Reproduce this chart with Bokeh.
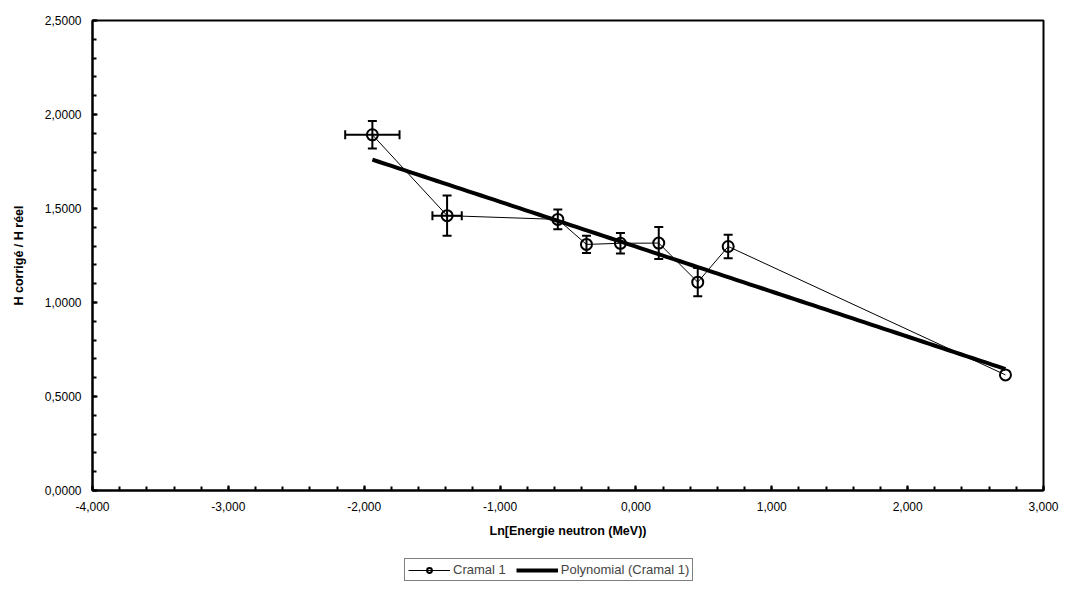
import numpy as np
from bokeh.plotting import figure
from bokeh.layouts import column
from bokeh.models import (ColumnDataSource, Whisker, TeeHead, FixedTicker, Legend,
                          LegendItem, Range1d)
from bokeh.embed import file_html
from bokeh.resources import INLINE

# ---- data ----
ln_energy = [-1.94, -1.39, -0.575, -0.364, -0.114, 0.168, 0.455, 0.679, 2.72]
h_ratio = [1.892, 1.462, 1.442, 1.309, 1.315, 1.316, 1.108, 1.298, 0.615]
y_err = [0.073, 0.107, 0.053, 0.046, 0.055, 0.085, 0.075, 0.062, 0.0]
x_err = [0.20, 0.108, 0.0, 0.0, 0.0, 0.0, 0.0, 0.0, 0.0]

x_ticks = [-4, -3, -2, -1, 0, 1, 2, 3]
x_tick_labels = ["-4,000", "-3,000", "-2,000", "-1,000", "0,000", "1,000", "2,000", "3,000"]
y_ticks = [0, 0.5, 1.0, 1.5, 2.0, 2.5]
y_tick_labels = ["0,0000", "0,5000", "1,0000", "1,5000", "2,0000", "2,5000"]

FONT = "Liberation Sans"

p = figure(width=1065, height=550, output_backend="svg", toolbar_location=None,
           x_range=Range1d(-4, 3), y_range=Range1d(0, 2.5),
           min_border_left=92, min_border_right=22, min_border_top=20,
           min_border_bottom=60)
p.grid.visible = False
p.outline_line_color = "black"
p.outline_line_width = 2
p.background_fill_color = "white"
p.border_fill_color = "white"

# axes
p.xaxis.ticker = FixedTicker(ticks=x_ticks,
                             minor_ticks=[round(-4 + 0.2 * i, 2) for i in range(36)])
p.xaxis.major_label_overrides = {t: l for t, l in zip(x_ticks, x_tick_labels)}
p.yaxis.ticker = FixedTicker(ticks=y_ticks,
                             minor_ticks=[round(0.1 * i, 2) for i in range(26)])
p.yaxis.major_label_overrides = {t: l for t, l in zip(y_ticks, y_tick_labels)}

for ax in (p.xaxis[0], p.yaxis[0]):
    ax.axis_line_color = "black"
    ax.axis_line_width = 2
    ax.major_tick_in = 5
    ax.major_tick_out = 0
    ax.minor_tick_in = 4
    ax.minor_tick_out = 0
    ax.major_tick_line_width = 2
    ax.minor_tick_line_width = 2
    ax.major_label_text_font = FONT
    ax.major_label_text_font_size = "12px"
    ax.major_label_text_color = "black"
    ax.axis_label_text_font = FONT
    ax.axis_label_text_font_size = "12.5px"
    ax.axis_label_text_font_style = "bold"
    ax.axis_label_text_color = "black"

p.xaxis.axis_label = "Ln[Energie neutron (MeV))"
p.yaxis.axis_label = "H corrigé / H réel"
p.xaxis.major_label_standoff = 11
p.yaxis.major_label_standoff = 11
p.xaxis.axis_label_standoff = 10
p.yaxis.axis_label_standoff = 16

src = ColumnDataSource(dict(x=ln_energy, y=h_ratio))

# polynomial trend line (fit of the data, as the spreadsheet did)
coef = np.polyfit(ln_energy, h_ratio, 2)
tx = np.linspace(min(ln_energy), max(ln_energy), 100)
ty = np.polyval(coef, tx)
p.line(tx, ty, line_color="black", line_width=4)

# data line + markers
p.line("x", "y", source=src, line_color="black", line_width=1)
p.scatter("x", "y", source=src, marker="circle", size=11, fill_color=None,
          line_color="black", line_width=2)

# error bars
ye = [(x, y - e, y + e) for x, y, e in zip(ln_energy, h_ratio, y_err) if e > 0]
ysrc = ColumnDataSource(dict(x=[a[0] for a in ye], lo=[a[1] for a in ye], hi=[a[2] for a in ye]))
p.add_layout(Whisker(source=ysrc, base="x", lower="lo", upper="hi", dimension="height",
                     line_color="black", line_width=2,
                     upper_head=TeeHead(size=9, line_width=2, line_color="black"),
                     lower_head=TeeHead(size=9, line_width=2, line_color="black")))
xe = [(y, x - e, x + e) for x, y, e in zip(ln_energy, h_ratio, x_err) if e > 0]
xsrc = ColumnDataSource(dict(y=[a[0] for a in xe], lo=[a[1] for a in xe], hi=[a[2] for a in xe]))
p.add_layout(Whisker(source=xsrc, base="y", lower="lo", upper="hi", dimension="width",
                     line_color="black", line_width=2,
                     upper_head=TeeHead(size=9, line_width=2, line_color="black"),
                     lower_head=TeeHead(size=9, line_width=2, line_color="black")))

# legend strip below the chart (its frame is aligned with the chart's frame)
lf = figure(width=1065, height=39, output_backend="svg", toolbar_location=None,
            x_range=Range1d(0, 1), y_range=Range1d(0, 1),
            min_border=0)
lf.axis.visible = False
lf.grid.visible = False
lf.outline_line_color = None
lf.border_fill_color = "white"
lf.background_fill_color = "white"
# legend proxies, kept outside the visible range of this strip
r_line = lf.line([5, 6], [5, 6], line_color="black", line_width=1)
r_mark = lf.scatter([5], [5], marker="circle", size=9, fill_color=None,
                    line_color="black", line_width=2)
r_trend = lf.line([5, 6], [5, 6], line_color="black", line_width=4)
legend = Legend(items=[LegendItem(label="Cramal 1", renderers=[r_line, r_mark]),
                       LegendItem(label="Polynomial (Cramal 1)", renderers=[r_trend])],
                orientation="horizontal", location=(312, 8),
                border_line_color="black", border_line_width=1,
                label_text_font=FONT, label_text_font_size="13px",
                padding=3, spacing=10, margin=0, glyph_width=42, glyph_height=12,
                label_standoff=3, label_height=12)
lf.add_layout(legend, "center")

open("out.html", "w").write(file_html(column(p, lf, spacing=0), INLINE))
